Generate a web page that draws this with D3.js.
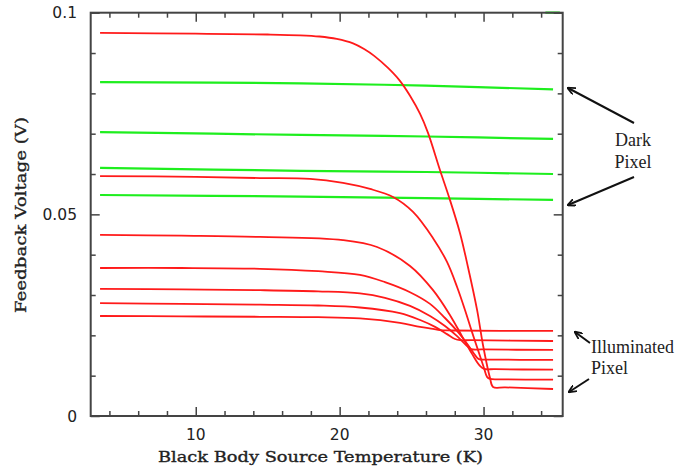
<!DOCTYPE html>
<html><head><meta charset="utf-8">
<script src="https://cdn.jsdelivr.net/npm/d3@7"></script>
<style>body{margin:0;background:#fff}svg{display:block}</style></head>
<body><svg id="c" width="679" height="472"></svg>
<script>
// ---- data: [temperature K, feedback voltage V] ----
const illum1 = [[3.35,0.0950],[10,0.0948],[15,0.0946],[17.25,0.0944],[18.6,0.0941],[19.8,0.0935],[20.93,0.0924],[21.7,0.0910],[22.4,0.0893],[23.36,0.0863],[24.19,0.0831],[24.89,0.0794],[25.59,0.0749],[26.14,0.0702],[26.97,0.0610],[27.60,0.0543],[28.36,0.0454],[28.92,0.0369],[29.55,0.0263],[29.96,0.0176],[30.45,0.0094],[30.66,0.0072],[31.5,0.0071],[34.83,0.0067]];
const illum2 = [[3.35,0.0595],[10,0.0593],[14.47,0.0590],[17.94,0.0588],[20.23,0.0578],[22.11,0.0563],[23.71,0.0543],[25.10,0.0506],[26.49,0.0441],[27.46,0.0382],[28.16,0.0320],[28.71,0.0263],[29.20,0.0208],[29.61,0.0164],[30.03,0.0119],[30.24,0.0097],[30.45,0.0092],[31.2,0.0091],[34.83,0.0090]];
const illum3 = [[3.35,0.0449],[9,0.0447],[14.47,0.0444],[20.23,0.0436],[22.60,0.0419],[24.89,0.0372],[26.49,0.0312],[27.67,0.0250],[28.50,0.0198],[29.20,0.0154],[29.75,0.0124],[30.03,0.0117],[30.8,0.0116],[34.83,0.0115]];
const illum4 = [[3.35,0.0367],[9,0.0367],[14.47,0.0365],[18.5,0.0359],[21.41,0.0350],[23.15,0.0332],[24.89,0.0307],[26.28,0.0278],[27.32,0.0243],[28.23,0.0208],[28.92,0.0176],[29.41,0.0151],[29.68,0.0141],[30.4,0.0140],[34.83,0.0139]];
const illum5 = [[3.35,0.0315],[9,0.0314],[14.47,0.0312],[18.5,0.0309],[21.41,0.0304],[23.15,0.0293],[24.89,0.0273],[26.28,0.0248],[27.32,0.0223],[28.16,0.0198],[28.78,0.0176],[29.13,0.0166],[29.9,0.0165],[34.83,0.0164]];
const illum6 = [[3.35,0.0280],[9,0.0278],[14.47,0.0276],[18.5,0.0274],[21.41,0.0269],[24.19,0.0255],[25.59,0.0238],[26.63,0.0221],[27.46,0.0203],[28.02,0.0191],[28.37,0.0188],[29.1,0.0188],[34.83,0.0186]];
const illum7 = [[3.35,0.0248],[9,0.0247],[14.47,0.0246],[18.5,0.0245],[21.41,0.0242],[24.19,0.0231],[25.59,0.0221],[26.49,0.0216],[26.97,0.0213],[27.8,0.0212],[34.83,0.0211]];
const dark1 = [[3.35,0.0828],[17.3,0.0825],[26,0.0819],[34.83,0.0810]];
const dark2 = [[3.35,0.0704],[17.3,0.0697],[26,0.0693],[34.83,0.0687]];
const dark3 = [[3.35,0.0615],[17.3,0.0608],[26,0.0605],[34.83,0.0600]];
const dark4 = [[3.35,0.0548],[17.3,0.0544],[26,0.0540],[34.83,0.0536]];
const darkTop = [[34.3,0.1],[35.3,0.1]];
const xMinorTicks = [4,6,8,12,14,16,18,22,24,26,28,32,34];
const xMajorTicks = [10,20,30];
const yMinorTicks = [0.01,0.02,0.03,0.04,0.06,0.07,0.08,0.09];
const yMajorTicks = [0,0.05,0.1];
const yTickLabels = ["0","0.05","0.1"];
const xLabel = "Black Body Source Temperature (K)";
const yLabel = "Feedback Voltage (V)";

// ---- drawing ----
const svg = d3.select("#c");
const L=90.7, R=562.7, T=12.7, B=416;
const x = d3.scaleLinear().domain([2.7,35.5]).range([L,R]);
const y = d3.scaleLinear().domain([0,0.1]).range([B,T]);

const line = d3.line().x(d=>x(d[0])).y(d=>y(d[1])).curve(d3.curveCatmullRom.alpha(0.5));
svg.append("clipPath").attr("id","clip").append("rect").attr("x",L).attr("y",T-2).attr("width",R-L).attr("height",B-T+2);
const g = svg.append("g").attr("clip-path","url(#clip)");
[dark1,dark2,dark3,dark4,darkTop].forEach(s=>g.append("path").attr("d",line(s)).attr("fill","none").attr("stroke","#1eee1e").attr("stroke-width",2.2));
[illum1,illum2,illum3,illum4,illum5,illum6,illum7].forEach(s=>g.append("path").attr("d",line(s)).attr("fill","none").attr("stroke","#ff1a1a").attr("stroke-width",1.8));

const axisCol="#444";
function ax(gen, scale, ticks, len, tr){
  const a = svg.append("g").attr("transform",tr).call(gen(scale).tickValues(ticks).tickSize(len).tickFormat(""));
  a.select(".domain").remove();
  a.selectAll("line").attr("stroke",axisCol).attr("stroke-width",1.5);
}
ax(d3.axisTop, x, xMinorTicks, 5, `translate(0,${B})`);
ax(d3.axisTop, x, xMajorTicks, 9, `translate(0,${B})`);
ax(d3.axisBottom, x, xMinorTicks, 5, `translate(0,${T})`);
ax(d3.axisBottom, x, xMajorTicks, 9, `translate(0,${T})`);
ax(d3.axisRight, y, yMinorTicks, 5, `translate(${L},0)`);
ax(d3.axisRight, y, yMajorTicks, 9, `translate(${L},0)`);
ax(d3.axisLeft, y, yMinorTicks, 5, `translate(${R},0)`);
ax(d3.axisLeft, y, yMajorTicks, 9, `translate(${R},0)`);
svg.append("rect").attr("x",L).attr("y",T).attr("width",R-L).attr("height",B-T)
  .attr("fill","none").attr("stroke",axisCol).attr("stroke-width",2);

// tick labels
const tf = "'DejaVu Sans', sans-serif";
svg.selectAll(".xt").data(xMajorTicks).enter().append("text")
  .attr("x",d=>x(d)).attr("y",439.5).attr("text-anchor","middle")
  .attr("font-family",tf).attr("font-size",15.5).attr("fill","#222").text(d=>d);
svg.selectAll(".yt").data(yMajorTicks).enter().append("text")
  .attr("x",77).attr("y",d=>y(d)+5.6).attr("text-anchor","end")
  .attr("font-family",tf).attr("font-size",15.5).attr("fill","#222").text((d,i)=>yTickLabels[i]);

// axis labels
const lf = "'DejaVu Serif', serif";
svg.append("text").attr("x",320.5).attr("y",461.5).attr("text-anchor","middle")
  .attr("font-family",lf).attr("font-size",15.5).attr("fill","#222")
  .attr("stroke","#222").attr("stroke-width",0.35)
  .attr("textLength",325).attr("lengthAdjust","spacingAndGlyphs").text(xLabel);
svg.append("text").attr("transform","translate(25.5,215) rotate(-90)").attr("text-anchor","middle")
  .attr("font-family",lf).attr("font-size",15.5).attr("fill","#222")
  .attr("stroke","#222").attr("stroke-width",0.35)
  .attr("textLength",196).attr("lengthAdjust","spacingAndGlyphs").text(yLabel);

// annotations
const af = "'Liberation Serif', 'Times New Roman', serif";
const ann = svg.append("g").attr("font-family",af).attr("font-size",18).attr("fill","#222");
ann.append("text").attr("x",633).attr("y",146).attr("text-anchor","middle").text("Dark");
ann.append("text").attr("x",633).attr("y",168).attr("text-anchor","middle").text("Pixel");
ann.append("text").attr("x",591).attr("y",353).text("Illuminated");
ann.append("text").attr("x",591).attr("y",374).text("Pixel");
svg.append("defs").append("marker").attr("id","ah").attr("viewBox","0 0 10 10").attr("refX",9).attr("refY",5)
  .attr("markerWidth",8).attr("markerHeight",8).attr("markerUnits","userSpaceOnUse").attr("orient","auto")
  .append("path").attr("d","M0,0.5 L10,5 L0,9.5").attr("fill","none").attr("stroke","#111").attr("stroke-width",2.2);
function arrow(x1,y1,x2,y2){
  svg.append("line").attr("x1",x1).attr("y1",y1).attr("x2",x2).attr("y2",y2)
    .attr("stroke","#111").attr("stroke-width",2).attr("marker-end","url(#ah)");
}
arrow(634,123,568,88);
arrow(634,177,568,205);
arrow(590,343,575,332);
arrow(589,379,569,392);
</script></body></html>
